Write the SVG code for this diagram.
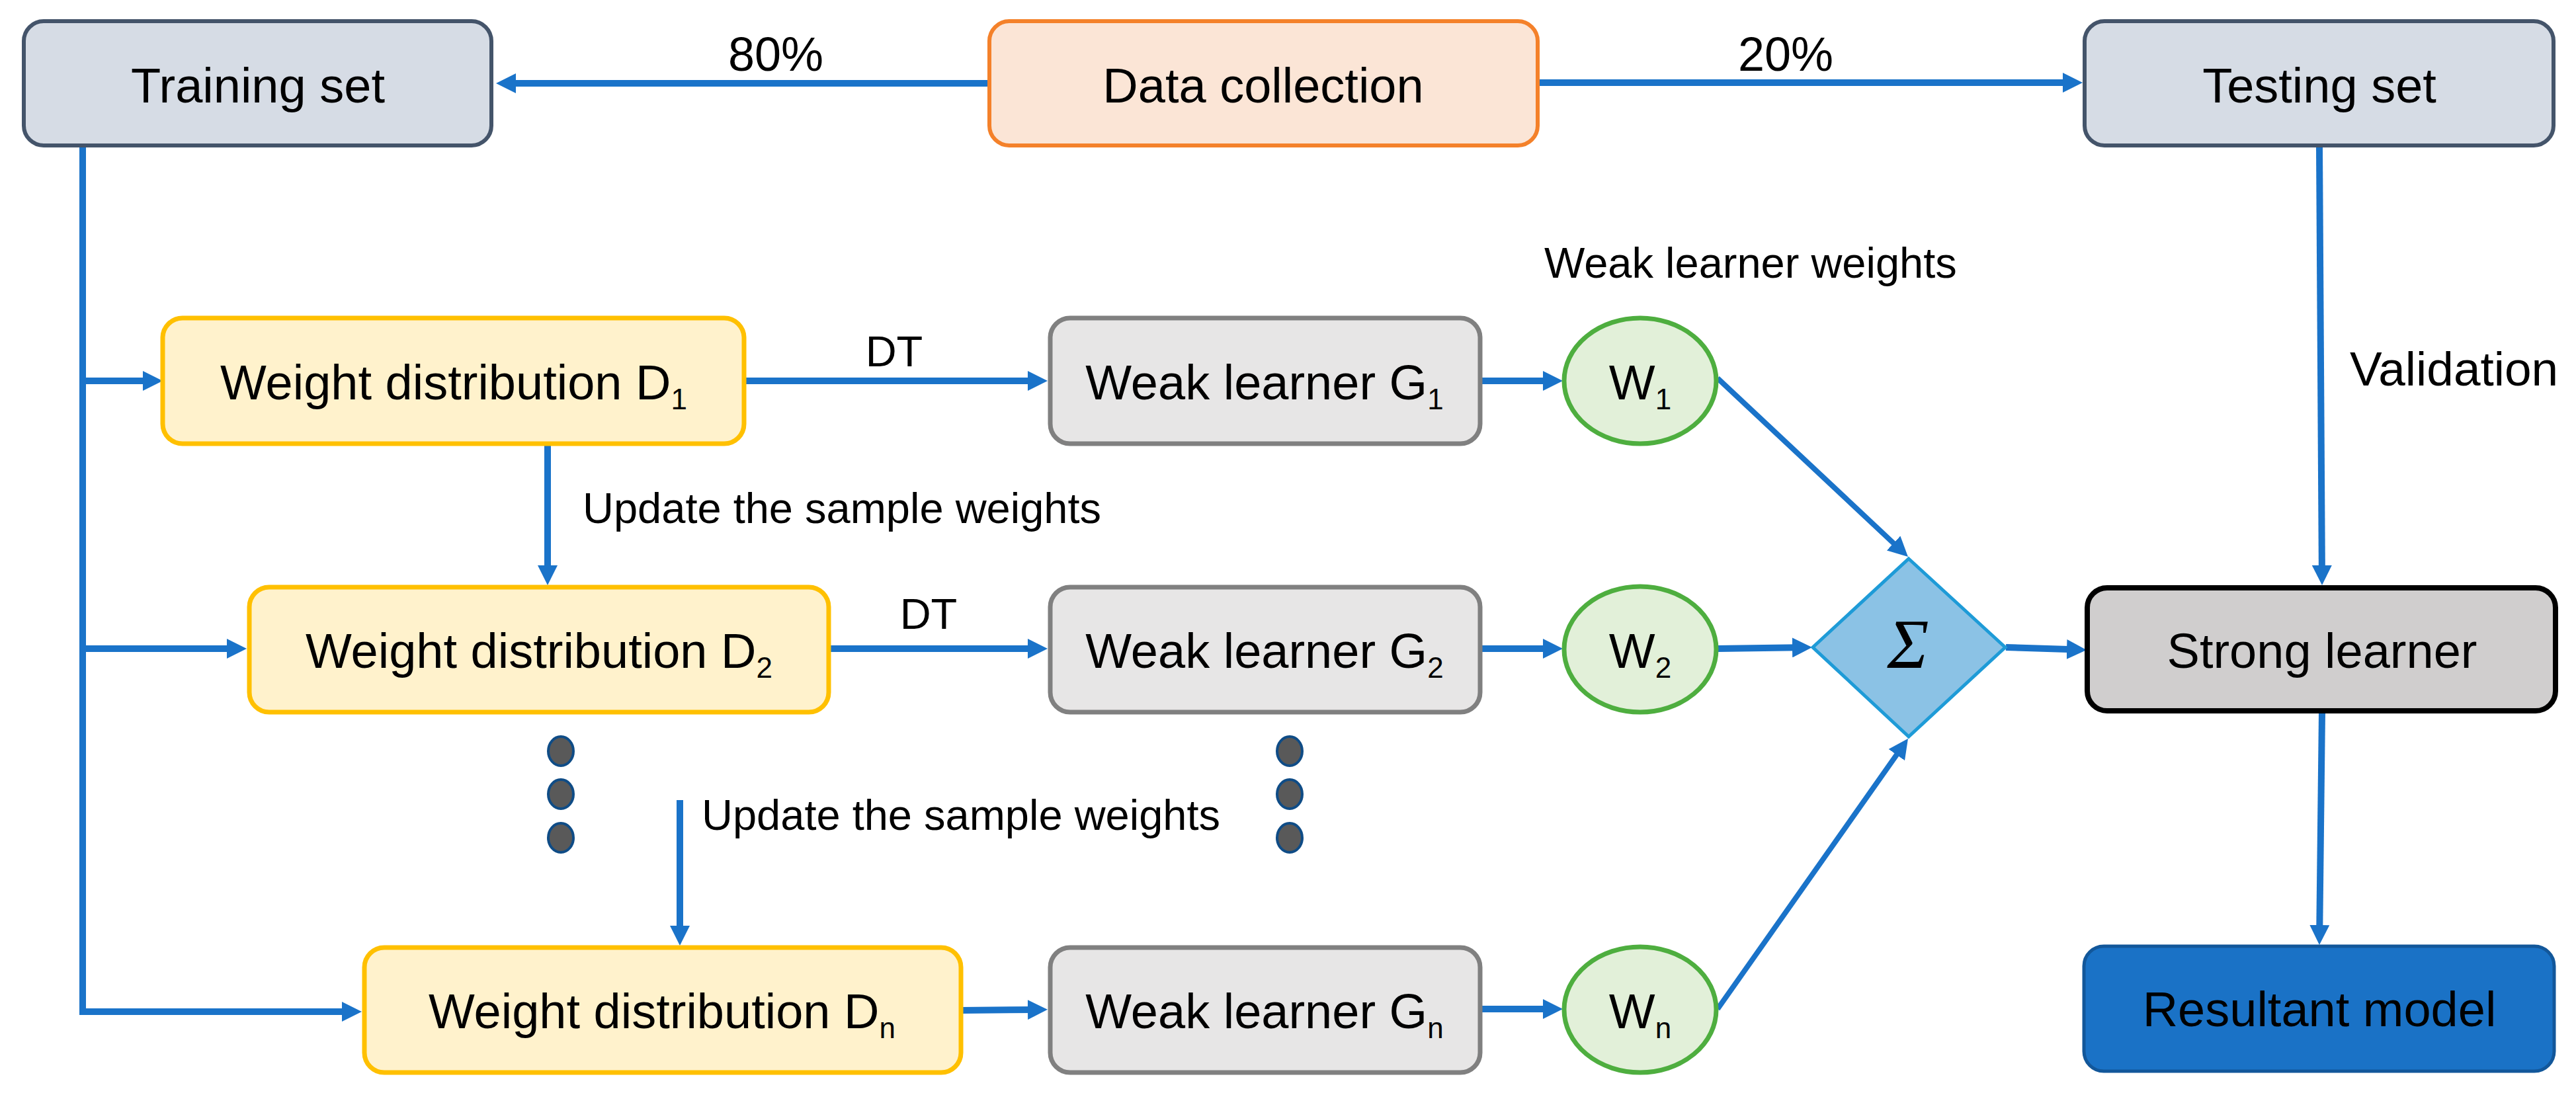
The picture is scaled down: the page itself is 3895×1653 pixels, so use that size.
<svg xmlns="http://www.w3.org/2000/svg" width="3895" height="1653" viewBox="0 0 3895 1653">
<style>
text{font-family:"Liberation Sans",Arial,sans-serif;fill:#000;}
.bt{font-size:74px;text-anchor:middle;}
.lb{font-size:65px;}
.sub{font-size:44px;}
.ln{fill:none;stroke:#1A73C9;stroke-width:10;}
.dg{fill:none;stroke:#1A73C9;stroke-width:8;}
.set{fill:#D6DCE5;stroke:#44546A;stroke-width:6;}
.dist{fill:#FFF2CC;stroke:#FFC000;stroke-width:7;}
.weak{fill:#E7E6E6;stroke:#808080;stroke-width:7;}
.w{fill:#E2F0D9;stroke:#4EAE3F;stroke-width:7;}
.dot{fill:#595959;stroke:#0F4C86;stroke-width:4;}
</style>
<defs>
<marker id="ah" markerUnits="userSpaceOnUse" viewBox="0 0 30 30" markerWidth="30" markerHeight="30" refX="10" refY="15" orient="auto">
<path d="M0,0 L30,15 L0,30 z" fill="#1A73C9"/>
</marker>
</defs>
<rect width="3895" height="1653" fill="#fff"/>

<g id="connectors">
<line class="ln" x1="1496" y1="126" x2="770" y2="126" marker-end="url(#ah)"/>
<line class="ln" x1="2325" y1="125" x2="3129" y2="125" marker-end="url(#ah)"/>
<path class="ln" d="M125,223 V1530"/>
<line class="ln" x1="120" y1="576" x2="226" y2="576" marker-end="url(#ah)"/>
<line class="ln" x1="120" y1="981" x2="353" y2="981" marker-end="url(#ah)"/>
<path class="ln" d="M125,1525 V1530 H527" marker-end="url(#ah)"/>
<line class="ln" x1="1125" y1="576" x2="1564" y2="576" marker-end="url(#ah)"/>
<line class="ln" x1="2238" y1="576" x2="2343" y2="576" marker-end="url(#ah)"/>
<line class="ln" x1="828" y1="672" x2="828" y2="865" marker-end="url(#ah)"/>
<line class="ln" x1="1253" y1="981" x2="1564" y2="981" marker-end="url(#ah)"/>
<line class="ln" x1="2238" y1="981" x2="2343" y2="981" marker-end="url(#ah)"/>
<line class="ln" x1="1028" y1="1210" x2="1028" y2="1410" marker-end="url(#ah)"/>
<line class="ln" x1="1453" y1="1528" x2="1564" y2="1527" marker-end="url(#ah)"/>
<line class="ln" x1="2238" y1="1526" x2="2343" y2="1526" marker-end="url(#ah)"/>
<line class="dg" x1="2597" y1="572" x2="2870.4" y2="828.3" marker-end="url(#ah)"/>
<line class="ln" x1="2597" y1="981" x2="2720" y2="979.3" marker-end="url(#ah)"/>
<line class="dg" x1="2597" y1="1526" x2="2873.5" y2="1133.4" marker-end="url(#ah)"/>
<line class="ln" x1="3033" y1="979" x2="3135" y2="982.3" marker-end="url(#ah)"/>
<line class="ln" x1="3507" y1="223" x2="3510.9" y2="865" marker-end="url(#ah)"/>
<line class="ln" x1="3511" y1="1078" x2="3507.2" y2="1409" marker-end="url(#ah)"/>
</g>

<g id="labels">
<text class="lb" x="1173" y="107" text-anchor="middle" style="font-size:72px">80%</text>
<text class="lb" x="2700" y="107" text-anchor="middle" style="font-size:72px">20%</text>
<text class="lb" x="2335" y="420">Weak learner weights</text>
<text class="lb" x="1352" y="554" text-anchor="middle">DT</text>
<text class="lb" x="1404" y="951" text-anchor="middle">DT</text>
<text class="lb" x="881" y="791">Update the sample weights</text>
<text class="lb" x="1061" y="1255">Update the sample weights</text>
<text class="lb" x="3553" y="583" style="font-size:73px">Validation</text>
</g>

<g id="training-set">
<rect class="set" x="36" y="32" width="707" height="188" rx="30"/>
<text class="bt" x="390" y="155">Training set</text>
</g>
<g id="data-collection">
<rect x="1496" y="32" width="829" height="188" rx="30" fill="#FBE5D6" stroke="#F4812A" stroke-width="6"/>
<text class="bt" x="1910" y="155">Data collection</text>
</g>
<g id="testing-set">
<rect class="set" x="3152" y="32" width="709" height="188" rx="30"/>
<text class="bt" x="3507" y="155">Testing set</text>
</g>

<g id="d1">
<rect class="dist" x="246" y="481" width="879" height="190" rx="30"/>
<text class="bt" x="686" y="604">Weight distribution D<tspan class="sub" dy="15">1</tspan></text>
</g>
<g id="g1">
<rect class="weak" x="1588" y="481" width="650" height="190" rx="30"/>
<text class="bt" x="1912" y="604">Weak learner G<tspan class="sub" dy="15">1</tspan></text>
</g>
<g id="w1">
<ellipse class="w" cx="2480" cy="576" rx="115" ry="95"/>
<text class="bt" x="2480" y="604">W<tspan class="sub" dy="15">1</tspan></text>
</g>

<g id="d2">
<rect class="dist" x="377" y="888" width="876" height="189" rx="30"/>
<text class="bt" x="815" y="1010">Weight distribution D<tspan class="sub" dy="15">2</tspan></text>
</g>
<g id="g2">
<rect class="weak" x="1588" y="888" width="650" height="189" rx="30"/>
<text class="bt" x="1912" y="1010">Weak learner G<tspan class="sub" dy="15">2</tspan></text>
</g>
<g id="w2">
<ellipse class="w" cx="2480" cy="982" rx="115" ry="95"/>
<text class="bt" x="2480" y="1010">W<tspan class="sub" dy="15">2</tspan></text>
</g>

<g id="dots-1">
<ellipse class="dot" cx="848" cy="1136" rx="19" ry="22"/>
<ellipse class="dot" cx="848" cy="1201" rx="19" ry="22"/>
<ellipse class="dot" cx="848" cy="1267" rx="19" ry="22"/>
</g>
<g id="dots-2">
<ellipse class="dot" cx="1950" cy="1136" rx="19" ry="22"/>
<ellipse class="dot" cx="1950" cy="1201" rx="19" ry="22"/>
<ellipse class="dot" cx="1950" cy="1267" rx="19" ry="22"/>
</g>

<g id="dn">
<rect class="dist" x="551" y="1433" width="902" height="189" rx="30"/>
<text class="bt" x="1001" y="1555">Weight distribution D<tspan class="sub" dy="15">n</tspan></text>
</g>
<g id="gn">
<rect class="weak" x="1588" y="1433" width="650" height="189" rx="30"/>
<text class="bt" x="1912" y="1555">Weak learner G<tspan class="sub" dy="15">n</tspan></text>
</g>
<g id="wn">
<ellipse class="w" cx="2480" cy="1527" rx="115" ry="95"/>
<text class="bt" x="2480" y="1555">W<tspan class="sub" dy="15">n</tspan></text>
</g>

<g id="sum">
<polygon points="2886,845 3032,979 2886,1114 2741,979" fill="#8BC2E5" stroke="#1E9BD7" stroke-width="5"/>
<text x="2885" y="1010" text-anchor="middle" style="font-family:'Liberation Serif','Times New Roman',serif;font-style:italic;font-size:106px">Σ</text>
</g>

<g id="strong-learner">
<rect x="3156" y="889" width="708" height="186" rx="30" fill="#D0CECE" stroke="#000" stroke-width="8"/>
<text class="bt" x="3511" y="1010">Strong learner</text>
</g>
<g id="resultant-model">
<rect x="3151" y="1431" width="711" height="189" rx="30" fill="#1A72C6" stroke="#12579A" stroke-width="5"/>
<text class="bt" x="3507" y="1552">Resultant model</text>
</g>
</svg>
